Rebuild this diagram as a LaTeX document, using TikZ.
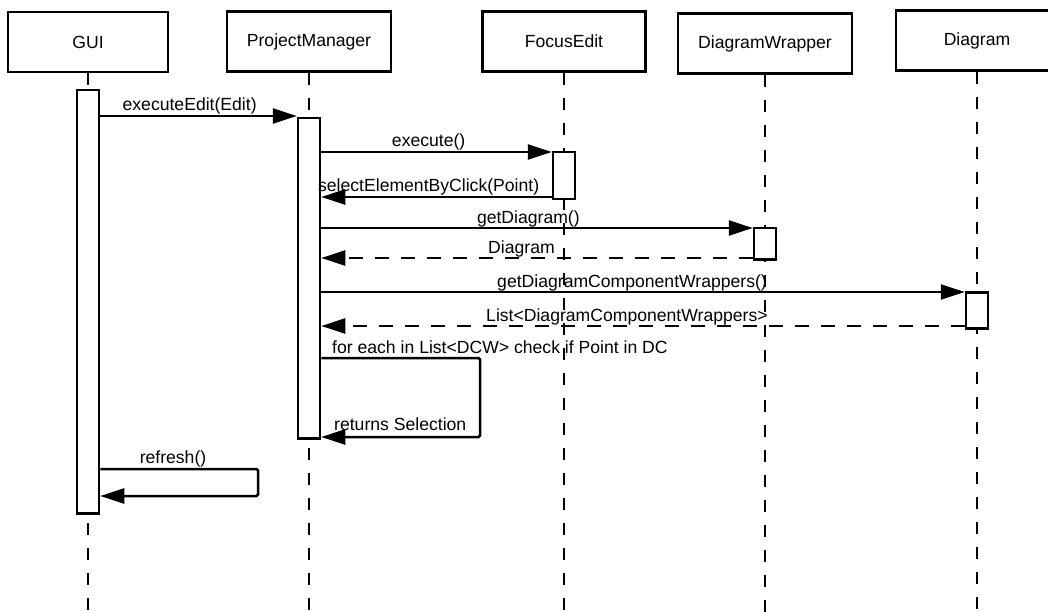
\documentclass[tikz,border=0pt]{standalone}
\usepackage{fontspec}
\setmainfont{Liberation Sans}
\usetikzlibrary{arrows.meta}

\begin{document}
\begin{tikzpicture}[x=1pt,y=-1pt,
	font=\fontsize{17.6}{20}\selectfont,
	actor/.style={draw,line width=2.5pt,fill=white,minimum height=60pt,inner sep=0pt},
	act/.style={draw,line width=2.5pt,fill=white,minimum width=22pt,inner sep=0pt,anchor=north},
	lifeline/.style={line width=1.5pt,dash pattern=on 12pt off 13pt},
	call/.style={line width=2.5pt,rounded corners=1.5pt,-{Triangle[length=24pt,width=15pt]}},
	reply/.style={call,dash pattern=on 14pt off 12pt},
	lbl/.style={anchor=base,inner sep=0pt,yshift=5pt}]
	
	\useasboundingbox (0,0) rectangle (1048,612);
	
	\coordinate (bottom) at (0,612);
	
	\node[actor,minimum width=160pt] (gui) at (88,42) {GUI};
	\node[actor,minimum width=164pt] (pm) at (309,41.5) {ProjectManager};
	\node[actor,minimum width=163pt] (fe) at (564,41.5) {FocusEdit};
	\node[actor,minimum width=174pt] (dw) at (765,43.5) {DiagramWrapper};
	\node[actor,minimum width=162pt] (dia) at (977,40.5) {Diagram};
	
	\foreach \o in {gui,pm,fe,dw,dia}
		\draw[lifeline] (\o.south) -- (\o.south |- bottom);
	
	\node[act,minimum height=423pt] (guiact) at (gui.south |- 0,89) {};
	\node[act,minimum height=320pt] (pmact) at (pm.south |- 0,117) {};
	\node[act,minimum height=47pt] (feact) at (fe.south |- 0,151) {};
	\node[act,minimum height=31pt] (dwact) at (dw.south |- 0,227) {};
	\node[act,minimum height=36pt] (diaact) at (dia.south |- 0,291) {};
	
	\draw[call] (guiact.east |- 0,116) -- (pmact.west |- 0,116)
		node[lbl,pos=.455] (m1) {executeEdit(Edit)};
	\draw[call] (pmact.east |- 0,152) -- (feact.west |- 0,152)
		node[lbl,pos=.466] (m2) {execute()};
	\draw[call] (feact.west |- 0,197) -- (pmact.east |- 0,197)
		node[lbl,pos=.534] (m3) {selectElementByClick(Point)};
	\draw[call] (pmact.east |- 0,228) -- (dwact.west |- 0,228)
		node[lbl,pos=.48] (m4) {getDiagram()};
	\draw[reply] (dwact.west |- 0,258) -- (pmact.east |- 0,258)
		node[lbl,pos=.536] (m5) {Diagram};
	\draw[call] (pmact.east |- 0,292) -- (diaact.west |- 0,292)
		node[lbl,pos=.483] (m6) {getDiagramComponentWrappers()};
	\draw[reply] (diaact.west |- 0,326) -- (pmact.east |- 0,326)
		node[lbl,pos=.525] (m7) {List<DiagramComponentWrappers>};
	
	\coordinate (pmloopA) at (480,358);
	\coordinate (pmloopB) at (480,437);
	\draw[call] (pmact.east |- pmloopA) -- (pmloopA) -- (pmloopB) -- (pmact.east |- pmloopB);
	\node[anchor=base west,inner sep=0pt] (m8) at (332,353) {for each in List<DCW> check if Point in DC};
	\node[anchor=base west,inner sep=0pt] (m9) at (334,430) {returns Selection};
	
	\coordinate (guiloopA) at (258,469);
	\coordinate (guiloopB) at (258,496);
	\draw[call] (guiact.east |- guiloopA) -- (guiloopA) -- (guiloopB) -- (guiact.east |- guiloopB);
	\node[anchor=base,inner sep=0pt] (m10) at (173,463) {refresh()};
	
\end{tikzpicture}
\end{document}
